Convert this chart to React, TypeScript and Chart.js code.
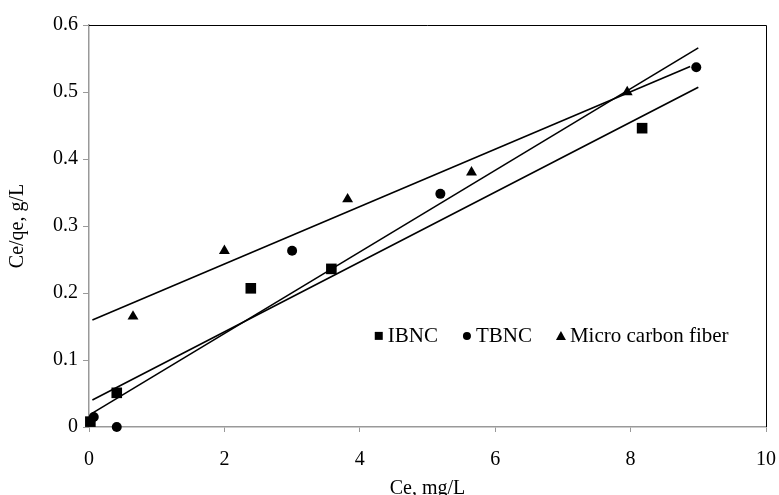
import React, { useEffect, useRef } from "react";
import { Chart, registerables } from "chart.js";
Chart.register(...registerables);

// Data
const seriesNames = ["IBNC", "TBNC", "Micro carbon fiber"];
const ibncX = [0.02, 0.41, 2.39, 3.58, 8.17];
const ibncY = [0.008, 0.051, 0.207, 0.236, 0.446];
const tbncX = [0.07, 0.41, 3.0, 5.19, 8.97];
const tbncY = [0.015, 0.0, 0.263, 0.348, 0.537];
const mcfX = [0.65, 2.0, 3.82, 5.65, 7.95];
const mcfY = [0.165, 0.263, 0.34, 0.38, 0.5];
// x-range covered by each fitted trend line
const ibncTrendRange = [0.05, 9.0];
const tbncTrendRange = [0.05, 9.0];
const mcfTrendRange = [0.05, 8.88];
const xAxisTitle = "Ce, mg/L";
const yAxisTitle = "Ce/qe, g/L";

const FONT = "'Liberation Serif', 'Times New Roman', serif";

function fit(xs: number[], ys: number[]) {
  const n = xs.length;
  const mx = xs.reduce((a, b) => a + b, 0) / n;
  const my = ys.reduce((a, b) => a + b, 0) / n;
  let sxx = 0, sxy = 0;
  for (let i = 0; i < n; i++) {
    sxx += (xs[i] - mx) ** 2;
    sxy += (xs[i] - mx) * (ys[i] - my);
  }
  const slope = sxy / sxx;
  return { slope, intercept: my - slope * mx };
}

function trend(xs: number[], ys: number[], range: number[]) {
  const { slope, intercept } = fit(xs, ys);
  return range.map((x) => ({ x, y: intercept + slope * x }));
}

function pts(xs: number[], ys: number[]) {
  return xs.map((x, i) => ({ x, y: ys[i] }));
}

const frameAndLegend = {
  id: "frameAndLegend",
  afterDraw(chart: any) {
    const { ctx, chartArea, scales } = chart;
    ctx.save();
    // top/right frame
    ctx.strokeStyle = "#000";
    ctx.lineWidth = 1;
    ctx.beginPath();
    ctx.moveTo(chartArea.left, chartArea.top + 0.5);
    ctx.lineTo(chartArea.right + 0.5, chartArea.top + 0.5);
    ctx.lineTo(chartArea.right + 0.5, chartArea.bottom);
    ctx.stroke();

    // legend
    const x0 = scales.x.getPixelForValue(4.28);
    const y0 = scales.y.getPixelForValue(0.136);
    ctx.font = `21px ${FONT}`;
    ctx.fillStyle = "#000";
    ctx.textBaseline = "middle";
    ctx.textAlign = "left";
    const styles = ["rect", "circle", "triangle"];
    let x = x0;
    seriesNames.forEach((name, i) => {
      ctx.beginPath();
      if (styles[i] === "rect") {
        ctx.rect(x - 4, y0 - 4, 8, 8);
      } else if (styles[i] === "circle") {
        ctx.arc(x, y0, 4, 0, Math.PI * 2);
      } else {
        ctx.moveTo(x, y0 - 5);
        ctx.lineTo(x + 5, y0 + 4);
        ctx.lineTo(x - 5, y0 + 4);
        ctx.closePath();
      }
      ctx.fill();
      const tx = x + 9;
      ctx.fillText(name, tx, y0 + 1);
      x = tx + ctx.measureText(name).width + 29;
    });
    ctx.restore();
  },
};

export default function App() {
  const ref = useRef<HTMLCanvasElement>(null);
  useEffect(() => {
    if (!ref.current) return;
    const black = "#000";
    const chart = new Chart(ref.current, {
      type: "scatter",
      data: {
        datasets: [
          {
            type: "line",
            data: trend(ibncX, ibncY, ibncTrendRange),
            borderColor: black,
            borderWidth: 1.6,
            pointRadius: 0,
            showLine: true,
          } as any,
          {
            type: "line",
            data: trend(tbncX, tbncY, tbncTrendRange),
            borderColor: black,
            borderWidth: 1.6,
            pointRadius: 0,
            showLine: true,
          } as any,
          {
            type: "line",
            data: trend(mcfX, mcfY, mcfTrendRange),
            borderColor: black,
            borderWidth: 1.6,
            pointRadius: 0,
            showLine: true,
          } as any,
          {
            label: seriesNames[0],
            data: pts(ibncX, ibncY),
            pointStyle: "rect",
            pointRadius: 7.5,
            backgroundColor: black,
            borderColor: black,
            borderWidth: 0,
            clip: false,
          } as any,
          {
            label: seriesNames[1],
            data: pts(tbncX, tbncY),
            pointStyle: "circle",
            pointRadius: 5,
            backgroundColor: black,
            borderColor: black,
            borderWidth: 0,
            clip: false,
          } as any,
          {
            label: seriesNames[2],
            data: pts(mcfX, mcfY),
            pointStyle: "triangle",
            pointRadius: 6.3,
            backgroundColor: black,
            borderColor: black,
            borderWidth: 0,
            clip: false,
          } as any,
        ],
      },
      options: {
        animation: false,
        responsive: false,
        events: [],
        layout: { padding: { top: 25, right: 13, left: 0, bottom: 0 } },
        plugins: { legend: { display: false }, tooltip: { enabled: false } },
        scales: {
          x: {
            type: "linear",
            min: 0,
            max: 10,
            ticks: {
              stepSize: 2,
              color: "#000",
              font: { family: FONT, size: 20 },
              padding: 16,
              maxRotation: 0,
            },
            grid: {
              display: true,
              drawOnChartArea: false,
              drawTicks: true,
              tickLength: 5,
              color: "#999",
            },
            border: { color: "#999", width: 1.5 },
            title: {
              display: true,
              text: xAxisTitle,
              color: "#000",
              font: { family: FONT, size: 20 },
              padding: { top: 0, bottom: -6 },
            },
            afterFit: (s: any) => {
              s.height = 68;
              s.paddingLeft = 0;
              s.paddingRight = 0;
            },
          },
          y: {
            type: "linear",
            min: 0,
            max: 0.6,
            ticks: {
              stepSize: 0.1,
              color: "#000",
              font: { family: FONT, size: 20 },
              padding: 5,
            },
            grid: {
              display: true,
              drawOnChartArea: false,
              drawTicks: true,
              tickLength: 6,
              color: "#999",
            },
            border: { color: "#999", width: 1.5 },
            title: {
              display: true,
              text: yAxisTitle,
              color: "#000",
              font: { family: FONT, size: 20 },
              padding: 6,
            },
            afterFit: (s: any) => {
              s.width = 89;
              s.paddingTop = 0;
              s.paddingBottom = 0;
            },
          },
        },
      },
      plugins: [frameAndLegend],
    } as any);
    return () => chart.destroy();
  }, []);
  return (
    <div style={{ position: "absolute", left: 0, top: 0, width: 779, height: 495, background: "#fff" }}>
      <canvas ref={ref} width={779} height={495} style={{ width: 779, height: 495 }} />
    </div>
  );
}
